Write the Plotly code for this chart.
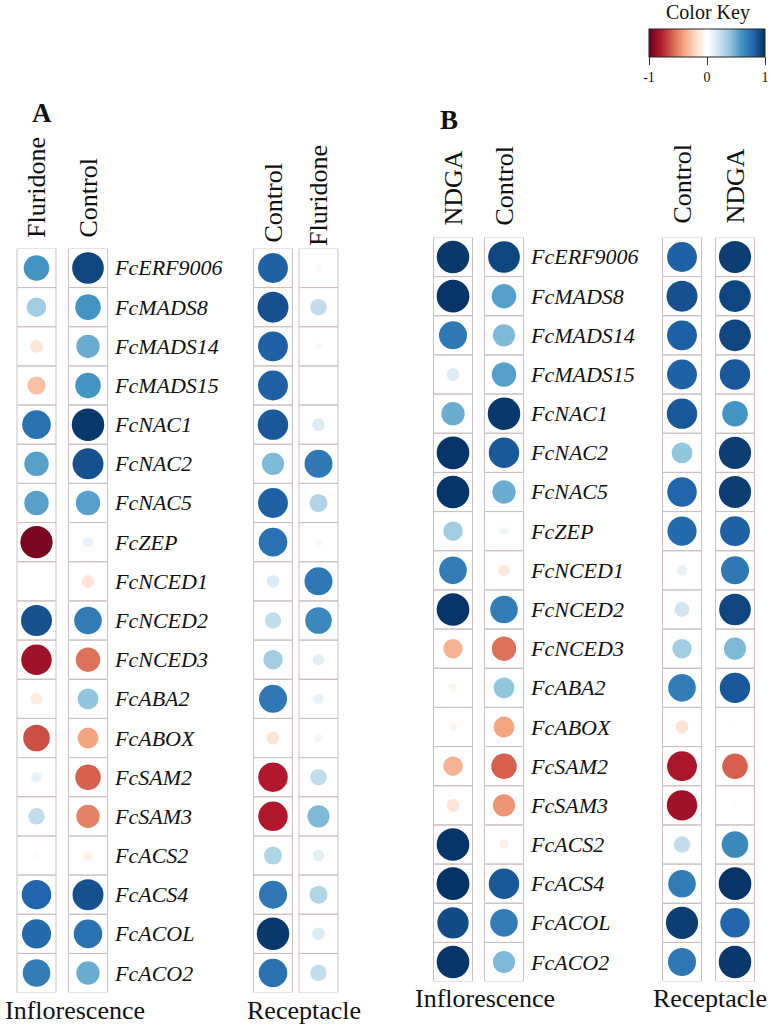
import numpy as np
import plotly.graph_objects as go

genes = ["FcERF9006", "FcMADS8", "FcMADS14", "FcMADS15", "FcNAC1", "FcNAC2", "FcNAC5",
         "FcZEP", "FcNCED1", "FcNCED2", "FcNCED3", "FcABA2", "FcABOX", "FcSAM2", "FcSAM3",
         "FcACS2", "FcACS4", "FcACOL", "FcACO2"]

# Panel A (Fluridone)
a_infl_fluridone = [0.6, 0.35, -0.15, -0.3, 0.75, 0.55, 0.55, -0.95, 0.0, 0.88, -0.85, -0.12,
                    -0.65, 0.1, 0.25, 0.03, 0.8, 0.78, 0.7]
a_infl_control = [0.92, 0.6, 0.5, 0.6, 0.97, 0.88, 0.55, 0.1, -0.15, 0.7, -0.55, 0.4,
                  -0.4, -0.6, -0.5, -0.08, 0.88, 0.75, 0.5]
a_rec_control = [0.82, 0.88, 0.82, 0.82, 0.85, 0.45, 0.82, 0.75, 0.15, 0.25, 0.35, 0.72,
                 -0.15, -0.8, -0.8, 0.3, 0.72, 0.97, 0.75]
a_rec_fluridone = [0.05, 0.25, 0.05, 0.01, 0.15, 0.72, 0.3, 0.05, 0.72, 0.65, 0.12, 0.1,
                   0.06, 0.25, 0.45, 0.12, 0.3, 0.15, 0.25]

# Panel B (NDGA)
b_infl_ndga = [0.97, 0.98, 0.72, 0.15, 0.5, 0.98, 0.98, 0.35, 0.7, 0.98, -0.35, -0.06,
               -0.06, -0.35, -0.15, 0.98, 0.99, 0.9, 0.98]
b_infl_control = [0.92, 0.55, 0.45, 0.55, 0.97, 0.85, 0.5, 0.06, -0.12, 0.7, -0.55, 0.4,
                  -0.4, -0.6, -0.45, -0.08, 0.85, 0.7, 0.45]
b_rec_control = [0.82, 0.88, 0.82, 0.82, 0.85, 0.4, 0.8, 0.78, 0.1, 0.2, 0.35, 0.7,
                 -0.15, -0.82, -0.85, 0.25, 0.7, 0.95, 0.72]
b_rec_ndga = [0.95, 0.92, 0.92, 0.85, 0.6, 0.95, 0.95, 0.82, 0.72, 0.92, 0.45, 0.85,
              0.02, -0.6, -0.02, 0.65, 0.98, 0.8, 0.97]

a_columns = ["Fluridone", "Control", "Control", "Fluridone"]
b_columns = ["NDGA", "Control", "Control", "NDGA"]
key_title = "Color Key"
key_ticks = [-1, 0, 1]
key_ticktext = ["-1", "0", "1"]

# ---------------- styling / layout constants ----------------
W, H = 771, 1027
colorscale = [[0.0, "#67001F"], [0.1, "#B2182B"], [0.2, "#D6604D"], [0.3, "#F4A582"],
              [0.4, "#FDDBC7"], [0.5, "#FFFFFF"], [0.6, "#D1E5F0"], [0.7, "#92C5DE"],
              [0.8, "#4393C3"], [0.9, "#2166AC"], [1.0, "#053061"]]
MAXD = 33          # max circle diameter (px)
CELL_W = 39
SERIF = "Liberation Serif, Times New Roman, serif"
GRID = "#cdbfbf"

panels = [
    dict(yref="y", cols_x=[36.5, 88, 273, 318.5], names=a_columns,
         data=[a_infl_fluridone, a_infl_control, a_rec_control, a_rec_fluridone],
         top=248.4, bottom=992.6, label_x=112, hdr_bottom=[240, 240, 245, 248],
         letter="A", letter_xy=(42, 113), foot_y=1010, foot_x=(75, 304)),
    dict(yref="y2", cols_x=[453, 504, 682, 735], names=b_columns,
         data=[b_infl_ndga, b_infl_control, b_rec_control, b_rec_ndga],
         top=237.4, bottom=981.6, label_x=528, hdr_bottom=[228, 228, 226, 226],
         letter="B", letter_xy=(449, 120), foot_y=998, foot_x=(485, 710)),
]

fig = go.Figure()
shapes = []
annotations = []
first = True
for p in panels:
    yaxis_name = p["yref"]
    for cx, vals in zip(p["cols_x"], p["data"]):
        v = np.array(vals, dtype=float)
        fig.add_trace(go.Scatter(
            x=[cx] * len(genes), y=genes, mode="markers",
            xaxis="x", yaxis=yaxis_name,
            marker=dict(size=MAXD * np.sqrt(np.abs(v)), color=v, colorscale=colorscale,
                        cmin=-1, cmax=1, line=dict(width=0), opacity=1,
                        showscale=first,
                        colorbar=dict(
                            orientation="h", x=707 / W, xanchor="center",
                            y=1 - 29 / H, yanchor="top", len=116, lenmode="pixels",
                            thickness=28, xpad=0, ypad=0,
                            outlinecolor="#222", outlinewidth=1,
                            tickvals=key_ticks, ticktext=key_ticktext,
                            ticks="outside", ticklen=8, tickcolor="#333",
                            tickfont=dict(family=SERIF, size=14, color="#111"),
                        )),
            hoverinfo="skip", showlegend=False))
        first = False
        for i in range(len(genes)):
            shapes.append(dict(type="rect", xref="x", yref=yaxis_name,
                               x0=cx - CELL_W / 2, x1=cx + CELL_W / 2,
                               y0=i - 0.5, y1=i + 0.5,
                               line=dict(color=GRID, width=1), layer="below"))
    # gene labels
    for g in genes:
        annotations.append(dict(x=p["label_x"], y=g, xref="x", yref=yaxis_name,
                                text=f"<i>{g}</i>", showarrow=False, xanchor="left",
                                yanchor="middle",
                                font=dict(family=SERIF, size=22, color="#111")))
    # column headers
    for cx, name, hb in zip(p["cols_x"], p["names"], p["hdr_bottom"]):
        annotations.append(dict(x=cx, y=1 - hb / H, xref="x", yref="paper",
                                text=name, textangle=-90, showarrow=False,
                                xanchor="center", yanchor="bottom",
                                font=dict(family=SERIF, size=26, color="#111")))
    # panel letter
    annotations.append(dict(x=p["letter_xy"][0], y=1 - p["letter_xy"][1] / H,
                            xref="x", yref="paper", text=f"<b>{p['letter']}</b>",
                            showarrow=False, xanchor="center", yanchor="middle",
                            font=dict(family=SERIF, size=27, color="#111")))
    # footers
    for fx, ft in zip(p["foot_x"], ["Inflorescence", "Receptacle"]):
        annotations.append(dict(x=fx, y=1 - p["foot_y"] / H, xref="x", yref="paper",
                                text=ft, showarrow=False, xanchor="center",
                                yanchor="middle",
                                font=dict(family=SERIF, size=26, color="#111")))

# colour key title
annotations.append(dict(x=708, y=1 - 13 / H, xref="x", yref="paper", text=key_title,
                        showarrow=False, xanchor="center", yanchor="middle",
                        font=dict(family=SERIF, size=20, color="#111")))

n = len(genes)
ya = panels[0]
yb = panels[1]
fig.update_layout(
    width=W, height=H, margin=dict(l=0, r=0, t=0, b=0),
    paper_bgcolor="white", plot_bgcolor="rgba(0,0,0,0)",
    xaxis=dict(domain=[0, 1], range=[0, W], visible=False, fixedrange=True),
    yaxis=dict(domain=[1 - ya["bottom"] / H, 1 - ya["top"] / H], type="category",
               categoryorder="array", categoryarray=genes, range=[n - 0.5, -0.5],
               visible=False, anchor="x"),
    yaxis2=dict(domain=[1 - yb["bottom"] / H, 1 - yb["top"] / H], type="category",
                categoryorder="array", categoryarray=genes, range=[n - 0.5, -0.5],
                visible=False, anchor="x"),
    shapes=shapes, annotations=annotations,
)

fig.write_html("out.html", config={"displayModeBar": False},
               post_script="document.body.style.margin='0';document.body.style.overflow='hidden';")
